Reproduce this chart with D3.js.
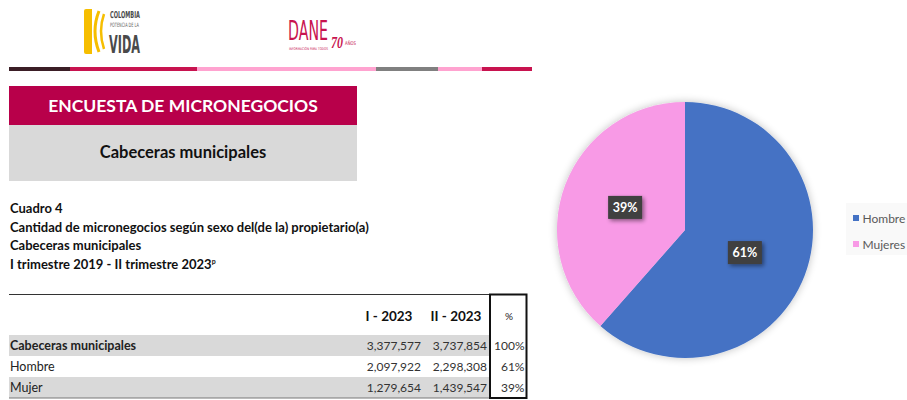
<!DOCTYPE html>
<html><head><meta charset="utf-8">
<script src="https://cdn.jsdelivr.net/npm/d3@7"></script>
<style>html,body{margin:0;padding:0;background:#fff;overflow:hidden}</style>
</head><body><div id="chart"></div>
<script>
// ---------- data ----------
const title = "ENCUESTA DE MICRONEGOCIOS";
const subtitle = "Cabeceras municipales";
const captionLines = ["Cuadro 4", "Cantidad de micronegocios según sexo del(de la) propietario(a)", "Cabeceras municipales", "I trimestre 2019 - II trimestre 2023"];
const periods = ["I - 2023", "II - 2023"];
const rowLabels = ["Cabeceras municipales", "Hombre", "Mujer"];
const valuesI = [3377577, 2097922, 1279654];
const valuesII = [3737854, 2298308, 1439547];
const pieLabels = ["Hombre", "Mujeres"];
const pieValues = [2298308, 1439547];
const pieColors = ["#4472c4", "#f89ae6"];
const ruleColors = ["#3b1e26", "#c8134f", "#ffa3d0", "#808080", "#ffa3d0", "#c8134f"];
const ruleStops = [9, 70, 197, 376, 438, 482, 532];

const W = 907, H = 400;
const svg = d3.select("#chart").append("svg").attr("width", W).attr("height", H)
  .style("font-family", "Lato, 'Open Sans', sans-serif");
svg.append("rect").attr("width", W).attr("height", H).attr("fill", "#fff");

const defs = svg.append("defs");
const sh = defs.append("filter").attr("id", "pieShadow").attr("x", "-20%").attr("y", "-20%").attr("width", "140%").attr("height", "140%");
sh.append("feGaussianBlur").attr("in", "SourceAlpha").attr("stdDeviation", 4).attr("result", "b");
sh.append("feComponentTransfer").attr("in", "b").attr("result", "o2").append("feFuncA").attr("type", "linear").attr("slope", 0.25);
const m1 = sh.append("feMerge"); m1.append("feMergeNode").attr("in", "o2"); m1.append("feMergeNode").attr("in", "SourceGraphic");
const ls = defs.append("filter").attr("id", "lblShadow").attr("x", "-30%").attr("y", "-30%").attr("width", "170%").attr("height", "170%");
ls.append("feGaussianBlur").attr("in", "SourceAlpha").attr("stdDeviation", 2).attr("result", "b");
ls.append("feOffset").attr("in", "b").attr("dx", 2).attr("dy", 2).attr("result", "o");
ls.append("feComponentTransfer").attr("in", "o").attr("result", "o2").append("feFuncA").attr("type", "linear").attr("slope", 0.45);
const m2 = ls.append("feMerge"); m2.append("feMergeNode").attr("in", "o2"); m2.append("feMergeNode").attr("in", "SourceGraphic");

// ---------- logos ----------
const logo = svg.append("g");
const narrow = "'Liberation Sans Narrow', 'DejaVu Sans Condensed', sans-serif";
// text squeezed horizontally to a target width using a transform
function fitText(g, t, x, y, w, size, opts) {
  const el = g.append("text").attr("font-size", size).attr("fill", opts.fill)
    .attr("font-family", opts.family || narrow).attr("font-weight", opts.weight || 400)
    .attr("font-style", opts.style || "normal").text(t);
  const nat = el.node().getComputedTextLength();
  el.attr("transform", `translate(${x},${y}) scale(${w / nat},1)`);
  return el;
}
logo.append("path").attr("d", "M86,9 h6 v45 h-6 q-2,0 -2,-2 v-41 q0,-2 2,-2 z").attr("fill", "#f6be00");
logo.append("path").attr("d", "M99,11 q-8,20 0,41").attr("fill", "none").attr("stroke", "#f6be00").attr("stroke-width", 3);
logo.append("path").attr("d", "M104,14 q-6,17 0,35").attr("fill", "none").attr("stroke", "#f6be00").attr("stroke-width", 2.5);
fitText(logo, "COLOMBIA", 110, 18, 30, 9.5, {fill: "#4a4a4a", weight: 700});
fitText(logo, "POTENCIA DE LA", 110, 27, 29, 6, {fill: "#666"});
fitText(logo, "VIDA", 109, 53, 31, 24, {fill: "#4a4a4a", weight: 700});
fitText(logo, "DANE", 288, 40, 40, 27, {fill: "#c8134f"});
fitText(logo, "INFORMACIÓN PARA TODOS", 289, 50, 39, 3.6, {fill: "#c8134f"});
fitText(logo, "70", 331, 48, 12, 17, {fill: "#c8134f", weight: 700, style: "italic", family: "'Liberation Serif', serif"});
fitText(logo, "AÑOS", 345, 45, 11, 5, {fill: "#c8134f"});

// ---------- coloured rule ----------
svg.append("g").selectAll("rect").data(ruleColors).join("rect")
  .attr("x", (d, i) => ruleStops[i]).attr("width", (d, i) => ruleStops[i + 1] - ruleStops[i])
  .attr("y", 67).attr("height", 4).attr("fill", d => d);

// ---------- header blocks ----------
svg.append("rect").attr("x", 9).attr("y", 86).attr("width", 348).attr("height", 39).attr("fill", "#b8004a");
svg.append("text").attr("x", 183).attr("y", 112).attr("text-anchor", "middle").attr("fill", "#fff").attr("font-size", 17.5).attr("font-weight", 700).text(title);
svg.append("rect").attr("x", 9).attr("y", 125).attr("width", 348).attr("height", 56).attr("fill", "#d9d9d9");
svg.append("text").attr("x", 183).attr("y", 158).attr("text-anchor", "middle").attr("fill", "#111").attr("font-size", 16.5).attr("font-weight", 700).text(subtitle);

// ---------- caption ----------
const cap = svg.append("g").attr("font-size", 13).attr("font-weight", 700).attr("fill", "#111");
const capY = [213, 232, 250, 269];
captionLines.forEach((t, i) => {
  const tx = cap.append("text").attr("x", 10).attr("y", capY[i]).text(t);
  if (i === captionLines.length - 1) tx.append("tspan").attr("dy", -5).attr("font-size", 7).text("p");
});

// ---------- table ----------
const fmt = d3.format(",");
const pct = d3.format(".0%");
const total = valuesII[0];
const rowY = d3.scaleBand().domain(rowLabels).range([335, 398]).padding(0);
const tbl = svg.append("g").attr("font-size", 12).attr("fill", "#222");
tbl.append("line").attr("x1", 9).attr("x2", 490).attr("y1", 294.5).attr("y2", 294.5).attr("stroke", "#333").attr("stroke-width", 1);
tbl.selectAll("rect.band").data(rowLabels).join("rect").attr("class", "band")
  .attr("x", 9).attr("width", 481).attr("y", d => rowY(d)).attr("height", rowY.bandwidth())
  .attr("fill", (d, i) => i % 2 === 0 ? "#d9d9d9" : "#fff");
tbl.append("line").attr("x1", 9).attr("x2", 490).attr("y1", 398).attr("y2", 398).attr("stroke", "#777").attr("stroke-width", 1);
const colX = [389, 456];
tbl.selectAll("text.head").data(periods).join("text").attr("class", "head")
  .attr("x", (d, i) => colX[i]).attr("y", 321).attr("text-anchor", "middle").attr("font-size", 13.5).attr("font-weight", 700).attr("fill", "#111").text(d => d);
tbl.append("text").attr("x", 509).attr("y", 320).attr("text-anchor", "middle").attr("font-size", 10).attr("fill", "#222").text("%");
const baseOff = 15;
tbl.selectAll("text.lab").data(rowLabels).join("text").attr("class", "lab")
  .attr("x", 10).attr("y", d => rowY(d) + baseOff).attr("font-size", 12.5).attr("font-weight", (d, i) => i === 0 ? 700 : 400).text(d => d);
tbl.selectAll("text.v1").data(valuesI).join("text").attr("class", "v1")
  .attr("x", 421).attr("y", (d, i) => rowY(rowLabels[i]) + baseOff).attr("text-anchor", "end").attr("fill", "#333").text(d => fmt(d));
tbl.selectAll("text.v2").data(valuesII).join("text").attr("class", "v2")
  .attr("x", 487).attr("y", (d, i) => rowY(rowLabels[i]) + baseOff).attr("text-anchor", "end").attr("fill", "#333").text(d => fmt(d));
tbl.selectAll("text.p").data(valuesII).join("text").attr("class", "p")
  .attr("x", 524.5).attr("y", (d, i) => rowY(rowLabels[i]) + baseOff).attr("text-anchor", "end").attr("fill", "#333").text(d => pct(d / total));
tbl.append("rect").attr("x", 490).attr("y", 294.5).attr("width", 36.5).attr("height", 103.5).attr("fill", "none").attr("stroke", "#111").attr("stroke-width", 2);

// ---------- pie ----------
const cx = 685, cy = 230, R = 128;
const pie = d3.pie().sort(null).value(d => d)(pieValues);
const arc = d3.arc().innerRadius(0).outerRadius(R);
const pg = svg.append("g").attr("transform", `translate(${cx},${cy})`);
pg.append("g").attr("filter", "url(#pieShadow)").selectAll("path").data(pie).join("path")
  .attr("d", arc).attr("fill", (d, i) => pieColors[i]);
const lbl = pg.selectAll("g.lbl").data(pie).join("g").attr("class", "lbl")
  .attr("transform", d => `translate(${arc.centroid(d)})`);
lbl.append("rect").attr("x", -17).attr("y", -11.5).attr("width", 34).attr("height", 23).attr("fill", "#3f3f3f").attr("filter", "url(#lblShadow)");
lbl.append("text").attr("text-anchor", "middle").attr("dy", "0.36em").attr("fill", "#fff").attr("font-size", 12.5).attr("font-weight", 700)
  .text(d => pct(d.value / d3.sum(pieValues)));

// ---------- legend ----------
const lg = svg.append("g");
lg.append("rect").attr("x", 846).attr("y", 203).attr("width", 61).attr("height", 52).attr("fill", "#f9f9f9");
const ly = d3.scalePoint().domain(pieLabels).range([218, 244]);
lg.selectAll("rect.sw").data(pieLabels).join("rect").attr("class", "sw")
  .attr("x", 853).attr("y", d => ly(d) - 3).attr("width", 6).attr("height", 6).attr("fill", (d, i) => pieColors[i]);
lg.selectAll("text").data(pieLabels).join("text")
  .attr("x", 862.5).attr("y", d => ly(d) + 4.5).attr("font-size", 12).attr("fill", "#595959").text(d => d);
</script></body></html>
